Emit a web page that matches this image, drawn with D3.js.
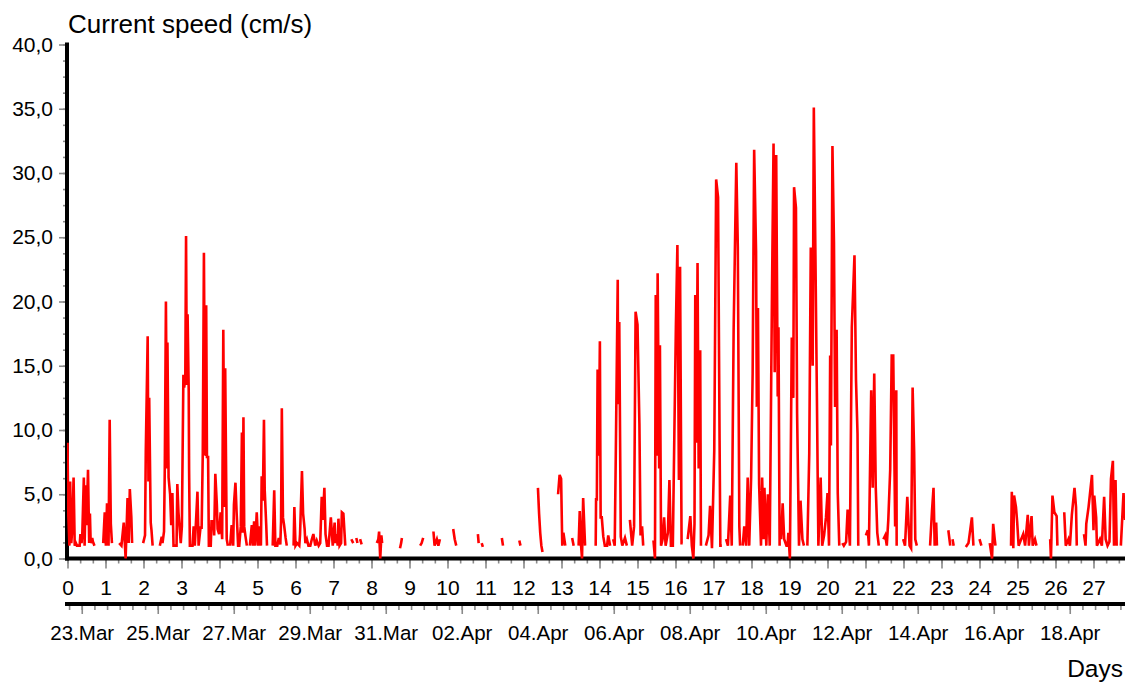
<!DOCTYPE html>
<html>
<head>
<meta charset="utf-8">
<script src="https://cdn.jsdelivr.net/npm/d3@7"></script>
<style>
  html, body { margin: 0; padding: 0; background: #fff; }
  svg { display: block; }
</style>
</head>
<body>
<svg id="chart" width="1125" height="684"></svg>
<script>
// ---------------- data ----------------
const yTitle = "Current speed (cm/s)";
const xTitle = "Days";
const yTicks = [0, 5, 10, 15, 20, 25, 30, 35, 40];
const dayTicks = d3.range(0, 28);
const dateTicks = ["23.Mar","25.Mar","27.Mar","29.Mar","31.Mar","02.Apr","04.Apr","06.Apr","08.Apr","10.Apr","12.Apr","14.Apr","16.Apr","18.Apr"];
const startStamp = "2021-03-22 15:00"; // day 0
const tickYear = "2021";

// time in days since start; null marks a gap in the record
const days = [
  0.00,0.02,0.05,0.07,0.10,0.13,0.16,0.19,0.22,0.25,0.32,0.34,0.37,0.39,0.43,0.45,0.48,0.50,0.54,0.57,0.59,0.61,0.65,0.67,0.71,null,
  0.94,0.98,1.01,1.04,1.08,1.11,1.14,1.17,null,
  1.36,1.42,1.48,1.53,1.58,1.61,1.64,1.68,1.70,null,
  1.99,2.04,2.06,2.11,2.13,2.15,2.19,2.21,2.24,null,
  2.43,2.48,2.50,2.54,2.56,2.59,2.62,2.63,2.66,2.70,2.73,2.76,2.79,
  2.87,2.89,2.92,2.98,3.01,3.05,3.07,3.10,3.12,3.14,3.16,3.19,3.20,3.22,
  3.29,3.32,3.35,3.42,3.45,3.50,3.53,3.56,3.59,3.62,3.64,3.65,3.67,3.70,3.72,
  3.77,3.79,3.84,3.86,3.89,3.93,3.95,3.99,4.03,4.07,4.10,4.13,4.15,4.19,4.22,null,
  4.28,4.32,4.36,4.38,4.42,4.45,4.49,4.52,4.56,4.59,4.61,4.63,4.65,4.68,4.72,null,
  4.80,4.85,4.88,4.91,4.94,4.98,5.02,5.05,5.09,5.11,5.14,5.17,5.19,5.23,5.25,null,
  5.40,5.44,5.47,5.52,5.56,5.60,5.62,5.64,5.67,5.70,5.74,5.77,null,
  5.95,5.97,6.00,6.04,6.10,6.12,6.17,6.20,6.24,6.26,6.30,6.34,6.39,6.43,6.47,6.52,6.56,6.61,6.65,6.69,6.72,6.76,6.79,6.83,6.87,6.93,6.98,7.03,7.05,7.08,7.11,7.13,7.16,7.20,7.22,7.26,7.29,7.31,null,
  7.47,7.52,null,7.60,7.63,null,7.70,7.74,null,8.14,8.18,8.20,8.23,8.26,8.28,null,8.75,8.78,8.80,null,9.28,9.32,9.36,null,9.63,9.66,9.72,9.76,9.80,null,10.15,10.19,10.23,null,10.80,10.82,null,10.90,10.93,null,11.43,11.46,null,11.89,11.92,null,
  12.38,12.41,12.44,12.47,12.50,null,12.91,12.95,12.99,13.02,13.05,13.10,null,13.28,13.32,null,13.45,13.48,13.51,13.54,13.57,13.62,null,
  13.90,13.91,13.93,13.95,13.98,14.01,14.03,14.06,14.10,14.14,14.20,14.23,14.28,null,
  14.36,14.40,14.43,14.48,14.49,14.52,14.56,14.60,14.67,14.72,null,
  14.80,14.86,14.91,14.95,15.00,15.05,15.08,15.12,15.15,null,
  15.42,15.46,15.48,15.51,15.53,15.57,15.59,15.62,15.66,15.70,15.74,15.80,15.84,15.88,15.93,15.97,16.01,16.05,16.09,16.12,16.16,16.19,null,
  16.32,16.39,16.43,16.47,16.50,16.52,16.55,16.58,16.61,16.65,16.67,null,
  16.80,16.87,16.91,16.96,17.02,17.07,17.12,17.16,17.18,17.22,null,
  17.33,17.38,17.44,17.48,17.53,17.60,17.64,17.68,17.70,null,
  17.77,17.81,17.86,17.90,17.94,17.99,18.03,18.07,18.12,18.14,18.17,18.20,18.25,18.28,18.32,18.34,18.39,18.43,18.48,18.54,18.58,18.61,18.65,18.69,18.71,18.74,null,
  18.78,18.82,18.86,18.92,18.95,18.97,19.01,19.06,19.10,19.12,19.17,19.20,19.25,19.29,19.34,19.38,null,
  19.47,19.52,19.56,19.61,19.64,19.68,19.72,19.76,19.82,19.86,19.91,19.96,20.00,20.04,20.07,20.09,20.13,20.17,20.20,20.24,20.27,20.31,null,
  20.39,20.43,20.49,20.53,20.59,20.64,20.71,20.75,20.79,20.81,null,
  21.01,21.06,21.09,21.15,21.19,21.23,21.27,21.31,21.35,null,
  21.47,21.52,21.56,21.60,21.65,21.69,21.73,21.78,21.81,21.82,null,
  21.99,22.04,22.10,22.16,22.20,22.24,22.28,22.31,22.35,null,
  22.70,22.75,22.79,22.82,22.86,22.88,null,23.18,23.23,null,23.29,23.32,null,23.64,23.71,23.80,23.84,null,24.00,24.05,null,24.27,24.33,24.36,24.40,24.42,null,
  24.83,24.85,24.89,24.91,24.96,24.99,25.03,25.15,25.20,25.27,25.30,25.37,25.40,25.46,25.50,null,
  25.86,25.88,25.92,25.97,26.03,26.05,null,26.23,26.27,26.34,26.38,26.43,26.50,26.54,26.56,null,
  26.75,26.79,26.81,26.87,26.96,27.00,27.02,27.07,27.09,27.17,27.22,27.28,27.32,27.37,27.42,27.46,27.51,27.54,27.58,27.61,null,27.72,27.79,27.83
];

// current speed in cm/s, one value per entry of `days`
const speed = [
  9.0,3.5,1.0,6.0,1.2,2.5,6.3,1.0,1.2,1.0,1.0,1.9,1.2,2.0,6.3,1.0,5.7,2.6,6.9,1.2,3.5,1.2,1.6,1.3,1.0,null,
  1.2,3.6,1.0,4.3,1.0,10.8,2.7,1.2,null,
  1.2,1.0,2.8,0.0,4.7,1.2,5.4,3.2,1.2,null,
  1.2,1.8,8.3,17.3,6.0,12.5,2.8,2.2,1.0,null,
  1.0,1.7,1.2,2.1,7.0,20.0,7.0,16.8,6.3,5.0,2.6,5.1,1.0,
  1.0,5.8,3.6,1.2,2.5,14.3,13.3,14.0,25.1,13.5,19.0,13.0,6.9,1.0,
  1.0,2.5,1.0,5.2,1.0,2.4,2.4,8.2,23.8,8.2,8.0,19.7,7.9,7.9,1.0,
  1.0,2.9,2.9,1.8,6.6,4.2,2.3,1.9,3.6,1.5,17.8,4.0,14.8,1.5,1.0,null,
  1.0,2.6,1.0,4.2,5.9,3.6,1.0,1.0,2.5,9.8,2.0,11.0,2.5,1.8,1.0,null,
  1.0,2.6,1.0,2.9,1.0,3.6,1.0,2.5,1.0,6.4,4.5,10.8,5.3,2.6,1.0,null,
  1.0,5.3,1.0,1.0,1.6,1.1,2.9,11.7,3.2,2.6,1.6,1.0,null,
  1.0,4.0,1.0,1.2,1.0,1.9,6.8,3.5,2.3,1.2,1.5,1.0,1.0,1.5,1.9,1.0,1.4,1.0,1.2,4.8,3.0,5.5,1.9,1.0,1.0,3.2,1.0,2.8,1.2,1.9,1.0,3.1,1.0,1.2,3.6,3.5,2.0,1.0,null,
  1.5,1.2,null,1.6,1.2,null,1.5,1.1,null,1.2,1.5,2.1,0.0,1.8,1.2,null,0.8,1.2,1.6,null,1.0,1.2,1.6,null,2.1,1.0,1.5,1.0,1.5,null,2.3,1.5,1.0,null,1.9,1.2,null,1.2,0.9,null,1.6,1.0,null,1.4,1.0,null,
  5.5,3.5,2.0,1.0,0.5,null,5.0,6.5,6.2,1.0,2.0,1.0,null,1.6,1.0,null,1.0,3.7,1.2,0.0,4.7,1.0,null,
  1.0,4.7,4.5,14.7,8.0,16.9,3.2,3.2,1.7,1.0,1.0,1.8,1.0,null,
  1.5,1.0,8.4,21.7,12.0,18.4,1.7,1.0,1.6,1.0,null,
  3.0,1.0,2.5,19.2,18.2,10.5,1.8,2.5,1.0,null,
  1.4,0.0,20.5,8.0,22.2,7.0,16.6,1.0,1.5,3.2,1.0,2.0,6.1,1.0,1.0,9.7,18.0,24.4,6.1,22.7,1.2,1.2,null,
  1.5,3.3,1.0,0.0,2.7,20.5,9.0,23.0,7.0,16.2,1.0,null,
  1.0,1.8,4.1,0.8,8.4,29.5,28.1,9.2,1.0,1.0,null,
  1.5,1.0,4.9,1.0,17.8,30.8,24.2,2.5,1.0,null,
  1.0,2.5,1.0,6.3,1.0,6.3,14.4,31.8,23.9,11.8,19.5,5.8,1.0,6.3,1.5,5.5,1.0,5.0,1.0,21.0,32.3,14.5,31.4,12.6,18.0,1.0,null,
  1.5,4.3,1.5,1.0,1.0,2.0,0.0,17.2,12.5,28.9,27.3,11.3,1.0,4.5,1.5,1.0,null,
  1.0,8.2,24.2,15.0,35.1,24.2,12.9,1.0,6.3,1.0,1.8,3.2,5.1,1.0,15.8,8.8,32.1,24.6,11.8,17.8,5.1,1.0,null,
  1.2,1.0,1.3,3.8,1.0,18.0,23.6,13.9,9.7,1.0,null,
  1.8,2.2,1.0,13.1,5.5,14.4,5.5,2.0,1.0,null,
  1.5,1.8,1.0,3.0,6.9,15.8,15.8,2.5,13.1,1.0,null,
  1.5,1.0,4.8,1.0,0.8,13.3,8.3,1.5,1.0,null,
  1.0,3.7,5.5,1.0,2.8,1.0,null,2.2,1.0,null,1.5,1.0,null,0.9,1.2,3.2,1.0,null,1.5,1.0,null,1.2,0.0,2.7,1.5,1.0,null,
  1.0,5.2,0.8,4.9,4.0,2.9,1.0,1.9,1.0,3.4,1.0,3.3,1.0,1.5,1.0,null,
  1.5,0.0,4.9,3.6,3.3,1.0,null,3.6,1.0,1.5,1.0,3.4,5.5,4.0,1.0,null,
  1.9,1.0,2.7,4.0,6.5,2.2,4.9,3.2,1.0,1.5,1.0,4.8,1.5,1.0,1.3,6.2,7.6,1.0,6.1,1.0,null,1.0,5.1,3.0
];

// ---------------- drawing ----------------
const FONT = "'Liberation Sans', Arial, Helvetica, sans-serif";
const TICK_GREY = "#8a8a8a";
const svg = d3.select("#chart");

const dayMax = 27.85;
const x = d3.scaleLinear().domain([0, dayMax]).range([67.5, 67.5 + dayMax * 38.0]);
const y = d3.scaleLinear().domain([0, 40]).range([558.5, 44.5]);

const t0 = d3.utcParse("%Y-%m-%d %H:%M")(startStamp);
const t1 = new Date(+t0 + dayMax * 864e5);
const t = d3.scaleUtc().domain([t0, t1]).range(x.range());
const parseTick = d3.utcParse("%d.%b %Y");
const dateTickValues = dateTicks.map(s => parseTick(s + " " + tickYear));

function styleAxis(g, size) {
  g.attr("font-family", FONT).attr("font-size", size).attr("color", "#000");
  g.select(".domain").remove();
  g.selectAll(".tick line").attr("stroke", TICK_GREY).attr("stroke-width", 1.6);
  g.selectAll(".tick text").attr("fill", "#000");
}

// y axis: minor then major ticks
svg.append("g").attr("transform", "translate(67,0)")
  .call(d3.axisLeft(y).tickValues(d3.range(0, 40.01, 1.25)).tickSize(4).tickFormat(""))
  .call(g => styleAxis(g, 21));
svg.append("g").attr("transform", "translate(67,0)")
  .call(d3.axisLeft(y).tickValues(yTicks).tickSize(8).tickPadding(6)
    .tickFormat(d => d3.format(".1f")(d).replace(".", ",")))
  .call(g => styleAxis(g, 21));

// day axis
svg.append("g").attr("transform", "translate(0,558.5)")
  .call(d3.axisBottom(x).tickValues(d3.range(0, dayMax, 1 / 3)).tickSize(5).tickFormat(""))
  .call(g => styleAxis(g, 21));
svg.append("g").attr("transform", "translate(0,558.5)")
  .call(d3.axisBottom(x).tickValues(dayTicks).tickSize(10).tickPadding(12).tickFormat(d3.format("d")))
  .call(g => styleAxis(g, 21));

// date axis
svg.append("g").attr("transform", "translate(0,604)")
  .call(d3.axisBottom(t).tickValues(d3.utcHour.every(8).range(t0, t1)).tickSize(6).tickFormat(""))
  .call(g => styleAxis(g, 20.5));
svg.append("g").attr("transform", "translate(0,604)")
  .call(d3.axisBottom(t).tickValues(dateTickValues).tickSize(10).tickPadding(11).tickFormat(d3.utcFormat("%d.%b")))
  .call(g => styleAxis(g, 20.5));

// thick black axis lines
svg.append("line").attr("x1", 67).attr("x2", 67).attr("y1", y(40) - 2).attr("y2", y(0) + 2)
  .attr("stroke", "#000").attr("stroke-width", 4);
svg.append("line").attr("x1", 65).attr("x2", 1125).attr("y1", y(0)).attr("y2", y(0))
  .attr("stroke", "#000").attr("stroke-width", 4);
svg.append("line").attr("x1", 65).attr("x2", 1125).attr("y1", 604).attr("y2", 604)
  .attr("stroke", "#000").attr("stroke-width", 4);

// titles
svg.append("text").attr("x", 68).attr("y", 33).attr("font-family", FONT).attr("font-size", 26)
  .attr("fill", "#000").text(yTitle);
svg.append("text").attr("x", 1123).attr("y", 677).attr("text-anchor", "end").attr("font-family", FONT)
  .attr("font-size", 24.5).attr("fill", "#000").text(xTitle);

// series
const n = Math.min(days.length, speed.length);
const pts = d3.range(n).map(i => ({ d: days[i], v: speed[i] }));
svg.append("clipPath").attr("id", "plotclip").append("rect")
  .attr("x", 67).attr("y", 0).attr("width", 1125 - 67).attr("height", 600);
svg.append("path")
  .datum(pts)
  .attr("clip-path", "url(#plotclip)")
  .attr("fill", "none")
  .attr("stroke", "#ff0000")
  .attr("stroke-width", 2.6)
  .attr("stroke-linejoin", "miter")
  .attr("d", d3.line().defined(p => p.d != null && p.v != null).x(p => x(p.d)).y(p => y(p.v)));
</script>
</body>
</html>
